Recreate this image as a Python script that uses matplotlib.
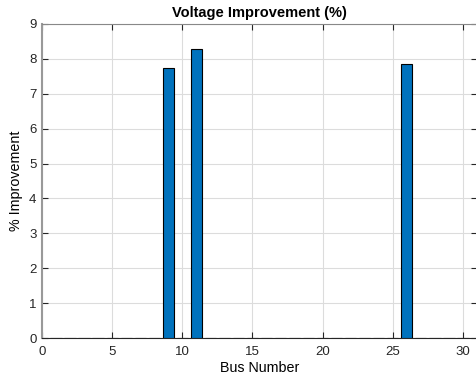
import matplotlib
matplotlib.use("Agg")
import matplotlib.pyplot as plt
import numpy as np

buses = list(range(1, 31))
improvement = [0]*30
improvement[8] = 7.73
improvement[10] = 8.28
improvement[25] = 7.86

xticks = [0, 5, 10, 15, 20, 25, 30]
yticks = list(range(0, 10))

plt.rcParams['font.family'] = ['Liberation Sans', 'DejaVu Sans']

fig = plt.figure(figsize=(4.77, 3.79), dpi=100)
ax = fig.add_axes([0.088, 0.108, 0.912, 0.829])

ax.bar(buses, improvement, width=0.8, color='#0072BD', edgecolor='black', linewidth=0.8, zorder=3)

ax.set_xlim(0, 31)
ax.set_ylim(0, 9)
ax.set_xticks(xticks)
ax.set_yticks(yticks)
ax.grid(True, color='#dcdcdc', linewidth=0.8, zorder=0)
ax.tick_params(direction='in', length=4, width=0.8, labelsize=9.5, colors='#262626',
               top=True, right=True, pad=4)
ax.tick_params(axis='x', pad=6)
for s in ax.spines.values():
    s.set_color('#262626')
    s.set_linewidth(0.8)
ax.spines['left'].set_color('#999999')
ax.spines['left'].set_linewidth(1.5)
ax.spines['top'].set_color('#888888')

ax.set_title('Voltage Improvement (%)', fontsize=10.5, fontweight='bold', pad=5)
ax.set_xlabel('Bus Number', fontsize=10.3, labelpad=2)
ax.set_ylabel('% Improvement', fontsize=10.3, labelpad=4)

fig.savefig('out.png', dpi=100)
